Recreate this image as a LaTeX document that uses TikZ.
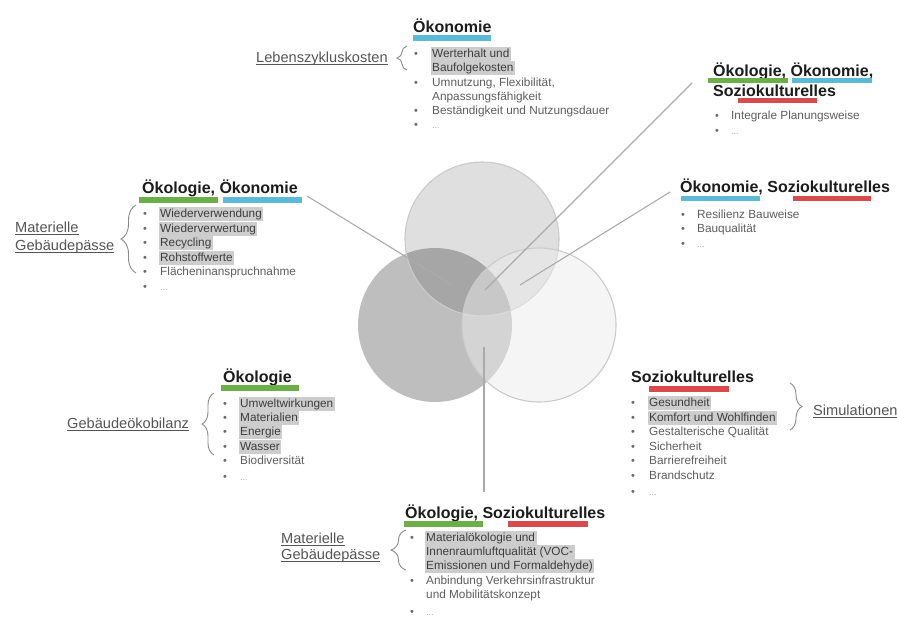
\documentclass[tikz,border=0pt]{standalone}
\usepackage{fontspec}
\setmainfont{Liberation Sans}
\usetikzlibrary{decorations.pathreplacing}
\definecolor{headc}{HTML}{1C1C1C}
\definecolor{itemc}{HTML}{5E5E5E}
\definecolor{hltext}{HTML}{3E3E3E}
\definecolor{hlfill}{HTML}{CDCDCD}
\definecolor{bulc}{HTML}{6A6A6A}
\definecolor{dotc}{HTML}{A8A8A8}
\definecolor{lblc}{HTML}{555555}
\definecolor{bracec}{HTML}{8A8A8A}
\definecolor{linec}{HTML}{ABABAB}
\definecolor{greenbar}{HTML}{6CAE47}
\definecolor{cyanbar}{HTML}{5BBAD6}
\definecolor{redbar}{HTML}{D84A4C}
\definecolor{circb}{HTML}{CBCBCB}
\definecolor{rfill}{HTML}{ECECEC}
\tikzset{
  hd/.style={anchor=base west, inner sep=0pt, text=headc, font=\fontsize{16}{19}\selectfont\bfseries},
  itm/.style={anchor=base west, inner sep=0pt, text=itemc, font=\fontsize{11.8}{14}\selectfont},
  hl/.style={anchor=base west, inner xsep=1.5pt, inner ysep=0pt, text height=9.6pt, text depth=3.6pt,
     fill=hlfill, text=hltext, xshift=-1.5pt, font=\fontsize{11.8}{14}\selectfont},
  bul/.style={anchor=base, inner sep=0pt, text=bulc, font=\fontsize{11}{12}\selectfont},
  dots/.style={anchor=base west, inner sep=0pt, text=dotc, font=\fontsize{9}{10}\selectfont},
  lbl/.style={anchor=base west, inner sep=0pt, text=lblc, font=\fontsize{14.6}{17}\selectfont},
  uline/.style={draw=lblc, line width=0.8pt},
  brc/.style={draw=bracec, line width=0.9pt, decorate, decoration={brace, amplitude=#1}},
  conn/.style={draw=linec, line width=1.1pt},
}
\begin{document}
\begin{tikzpicture}[x=1pt,y=-1pt]
\useasboundingbox[fill=white] (0,0) rectangle (897,630);

% ---------- circles ----------
\fill[black, fill opacity=0.125] (482,239) circle[radius=77pt];
\fill[black, fill opacity=0.255] (435,325) circle[radius=77pt];
\draw[circb, line width=1.1pt] (482,239) circle[radius=77pt];
\fill[rfill, fill opacity=0.49] (539,325) circle[radius=77pt];
\draw[circb, line width=1.1pt] (539,325) circle[radius=77pt];

% ---------- connector coordinates ----------
\coordinate (s1) at (307,196);
\coordinate (c1) at (452,285);
\coordinate (s2) at (692,83);
\coordinate (c2) at (485,290);
\coordinate (s3) at (670,192);
\coordinate (c3) at (520,285);
\coordinate (s4) at (484,492);
\coordinate (c4) at (484,347);
\draw[conn] (s1) -- (c1);
\draw[conn] (s2) -- (c2);
\draw[conn] (s3) -- (c3);
\draw[conn] (s4) -- (c4);

% ---------- top: Ökonomie ----------
\node[hd] (hOek) at (413,32) {Ökonomie};
\fill[cyanbar] (413,35) rectangle (491,40.5);
\node[hl] (t1) at (432,57) {Werterhalt und};
\node[hl] (t2) at (432,71) {Baufolgekosten};
\node[itm] (t3) at (432,86) {Umnutzung, Flexibilität,};
\node[itm] (t4) at (432,100) {Anpassungsfähigkeit};
\node[itm] (t5) at (432,114) {Beständigkeit und Nutzungsdauer};
\node[dots] (t6) at (432,128) {...};
\node[bul] (tb1) at (416,57) {•};
\node[bul] (tb2) at (416,86) {•};
\node[bul] (tb3) at (416,114) {•};
\node[bul] (tb4) at (416,128) {•};
\node[lbl] (tL) at (256,62) {Lebenszykluskosten};
\draw[uline] ([yshift=-2.5pt]tL.base west) -- ([yshift=-2.5pt]tL.base east);
\draw[brc=10pt] (407,70) -- (407,46);

% ---------- top right: Ökologie, Ökonomie, Soziokulturelles ----------
\node[hd] (hAll1) at (713,76.5) {Ökologie, Ökonomie,};
\node[hd] (hAll2) at (713,96) {Soziokulturelles};
\fill[greenbar] (708,77.5) rectangle (788,82.5);
\fill[cyanbar] (792,77.5) rectangle (872,82.5);
\fill[redbar] (738,97.5) rectangle (817,102.5);
\node[itm] (r1) at (731,119) {Integrale Planungsweise};
\node[dots] (r2) at (731,134) {...};
\node[bul] (rb1) at (717,119) {•};
\node[bul] (rb2) at (717,134) {•};

% ---------- right middle: Ökonomie, Soziokulturelles ----------
\node[hd] (hOS) at (680,192) {Ökonomie, Soziokulturelles};
\fill[cyanbar] (681,195.5) rectangle (760,201);
\fill[redbar] (793,195.5) rectangle (871,201);
\node[itm] (m1) at (697,218) {Resilienz Bauweise};
\node[itm] (m2) at (697,232) {Bauqualität};
\node[dots] (m3) at (697,247) {...};
\node[bul] (mb1) at (683,218) {•};
\node[bul] (mb2) at (683,232) {•};
\node[bul] (mb3) at (683,247) {•};

% ---------- left middle: Ökologie, Ökonomie ----------
\node[hd] (hOO) at (142,193) {Ökologie, Ökonomie};
\fill[greenbar] (139,197) rectangle (218,203);
\fill[cyanbar] (223,197) rectangle (302,203);
\node[hl] (l1) at (160,217) {Wiederverwendung};
\node[hl] (l2) at (160,232) {Wiederverwertung};
\node[hl] (l3) at (160,246) {Recycling};
\node[hl] (l4) at (160,261) {Rohstoffwerte};
\node[itm] (l5) at (160,275) {Flächeninanspruchnahme};
\node[dots] (l6) at (160,290) {...};
\node[bul] (lb1) at (145,217) {•};
\node[bul] (lb2) at (145,232) {•};
\node[bul] (lb3) at (145,246) {•};
\node[bul] (lb4) at (145,261) {•};
\node[bul] (lb5) at (145,275) {•};
\node[bul] (lb6) at (145,290) {•};
\node[lbl] (lL1) at (15,232) {Materielle};
\node[lbl] (lL2) at (15,250) {Gebäudepässe};
\draw[uline] ([yshift=-2.5pt]lL1.base west) -- ([yshift=-2.5pt]lL1.base east);
\draw[uline] ([yshift=-2.5pt]lL2.base west) -- ([yshift=-2.5pt]lL2.base east);
\draw[brc=15pt] (136,273) -- (136,205);

% ---------- lower left: Ökologie ----------
\node[hd] (hOkol) at (223,382) {Ökologie};
\fill[greenbar] (221,385) rectangle (299,391);
\node[hl] (g1) at (240,407) {Umweltwirkungen};
\node[hl] (g2) at (240,421) {Materialien};
\node[hl] (g3) at (240,435) {Energie};
\node[hl] (g4) at (240,450) {Wasser};
\node[itm] (g5) at (240,464) {Biodiversität};
\node[dots] (g6) at (240,480) {...};
\node[bul] (gb1) at (225,407) {•};
\node[bul] (gb2) at (225,421) {•};
\node[bul] (gb3) at (225,435) {•};
\node[bul] (gb4) at (225,450) {•};
\node[bul] (gb5) at (225,464) {•};
\node[bul] (gb6) at (225,480) {•};
\node[lbl] (gL) at (67,428) {Gebäudeökobilanz};
\draw[uline] ([yshift=-2.5pt]gL.base west) -- ([yshift=-2.5pt]gL.base east);
\draw[brc=12pt] (214,455) -- (214,393);

% ---------- lower right: Soziokulturelles ----------
\node[hd] (hSoz) at (631,382) {Soziokulturelles};
\fill[redbar] (649,386) rectangle (729,392);
\node[hl] (s1n) at (649,406) {Gesundheit};
\node[hl] (s2n) at (649,421) {Komfort und Wohlfinden};
\node[itm] (s3n) at (649,435) {Gestalterische Qualität};
\node[itm] (s4n) at (649,450) {Sicherheit};
\node[itm] (s5n) at (649,464) {Barrierefreiheit};
\node[itm] (s6n) at (649,479) {Brandschutz};
\node[dots] (s7n) at (649,495) {...};
\node[bul] (sb1) at (633,406) {•};
\node[bul] (sb2) at (633,421) {•};
\node[bul] (sb3) at (633,435) {•};
\node[bul] (sb4) at (633,450) {•};
\node[bul] (sb5) at (633,464) {•};
\node[bul] (sb6) at (633,479) {•};
\node[bul] (sb7) at (633,495) {•};
\node[lbl] (sL) at (813,415) {Simulationen};
\draw[uline] ([yshift=-2.5pt]sL.base west) -- ([yshift=-2.5pt]sL.base east);
\draw[brc=12pt] (790,383) -- (790,430);

% ---------- bottom: Ökologie, Soziokulturelles ----------
\node[hd] (hOSz) at (405,518) {Ökologie, Soziokulturelles};
\fill[greenbar] (404,521) rectangle (483,527);
\fill[redbar] (508,521) rectangle (588,527);
\node[hl] (b1) at (426,541) {Materialökologie und};
\node[hl] (b2) at (426,555) {Innenraumluftqualität (VOC-};
\node[hl] (b3) at (426,569) {Emissionen und Formaldehyde)};
\node[itm] (b4) at (426,584) {Anbindung Verkehrsinfrastruktur};
\node[itm] (b5) at (426,598) {und Mobilitätskonzept};
\node[dots] (b6) at (426,615) {...};
\node[bul] (bb1) at (412,541) {•};
\node[bul] (bb2) at (412,584) {•};
\node[bul] (bb3) at (412,615) {•};
\node[lbl] (bL1) at (281,543) {Materielle};
\node[lbl] (bL2) at (281,559) {Gebäudepässe};
\draw[uline] ([yshift=-2.5pt]bL1.base west) -- ([yshift=-2.5pt]bL1.base east);
\draw[uline] ([yshift=-2.5pt]bL2.base west) -- ([yshift=-2.5pt]bL2.base east);
\draw[brc=15pt] (406,570) -- (406,530);
\end{tikzpicture}
\end{document}
